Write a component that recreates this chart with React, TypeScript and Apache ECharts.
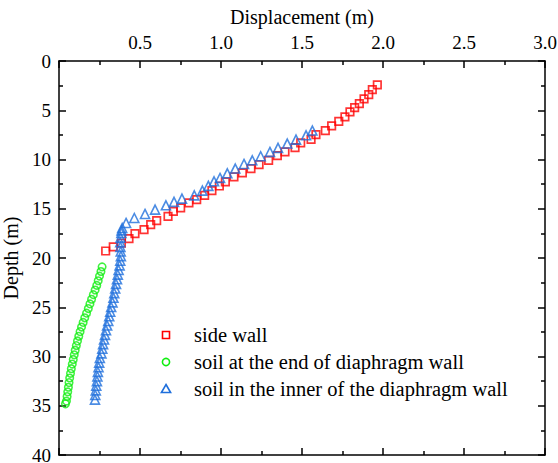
import React, { useEffect, useRef } from 'react';
import * as echarts from 'echarts';

const FONT = 'Liberation Serif';

// side wall: depth (m) and displacement (m)
const sideWallDepth = [2.42, 2.9, 3.41, 3.84, 4.32, 4.73, 5.16, 5.67, 6.12, 6.59, 7.06, 7.47, 7.95, 8.31, 8.79, 9.23, 9.6, 10.08, 10.52, 10.92, 11.36, 11.77, 12.28, 12.69, 13.16, 13.64, 14.08, 14.41, 14.92, 15.26, 15.77, 16.21, 16.62, 17.12, 17.53, 18.04, 18.5, 18.88, 19.29];
const sideWallDisp = [1.965, 1.934, 1.912, 1.883, 1.854, 1.825, 1.796, 1.765, 1.727, 1.683, 1.644, 1.586, 1.556, 1.492, 1.457, 1.395, 1.348, 1.294, 1.235, 1.185, 1.132, 1.08, 1.027, 0.99, 0.944, 0.899, 0.85, 0.802, 0.751, 0.706, 0.673, 0.603, 0.566, 0.525, 0.469, 0.432, 0.385, 0.335, 0.288];

// soil at the end of diaphragm wall
const endSoilDepth = [20.9, 21.37, 21.84, 22.31, 22.78, 23.25, 23.72, 24.19, 24.66, 25.13, 25.6, 26.07, 26.54, 27.01, 27.48, 27.95, 28.42, 28.89, 29.36, 29.83, 30.3, 30.77, 31.24, 31.71, 32.18, 32.65, 33.12, 33.59, 34.06, 34.53, 34.8];
const endSoilDisp = [0.266, 0.259, 0.25, 0.242, 0.233, 0.223, 0.212, 0.201, 0.191, 0.181, 0.17, 0.159, 0.149, 0.139, 0.13, 0.122, 0.114, 0.107, 0.1, 0.094, 0.088, 0.082, 0.076, 0.071, 0.066, 0.062, 0.058, 0.054, 0.05, 0.046, 0.04];

// soil in the inner of the diaphragm wall
const innerSoilDepth = [7.06, 7.54, 7.98, 8.38, 8.82, 9.23, 9.67, 10.08, 10.45, 10.92, 11.4, 11.87, 12.21, 12.68, 13.16, 13.64, 13.97, 14.3, 14.65, 15.09, 15.53, 15.94, 16.44, 16.95, 17.2, 17.46, 17.93, 18.4, 18.87, 19.34, 19.81, 20.28, 20.75, 21.22, 21.69, 22.16, 22.63, 23.1, 23.57, 24.04, 24.51, 24.98, 25.45, 25.92, 26.39, 26.86, 27.33, 27.8, 28.27, 28.74, 29.21, 29.68, 30.15, 30.62, 31.09, 31.56, 32.03, 32.5, 32.97, 33.44, 33.91, 34.38];
const innerSoilDisp = [1.564, 1.525, 1.463, 1.409, 1.352, 1.302, 1.245, 1.193, 1.142, 1.088, 1.039, 0.994, 0.957, 0.922, 0.885, 0.835, 0.759, 0.71, 0.66, 0.593, 0.531, 0.465, 0.414, 0.39, 0.386, 0.385, 0.38, 0.378, 0.379, 0.381, 0.382, 0.378, 0.374, 0.368, 0.363, 0.358, 0.352, 0.347, 0.341, 0.336, 0.33, 0.322, 0.316, 0.31, 0.304, 0.297, 0.29, 0.284, 0.278, 0.272, 0.267, 0.262, 0.252, 0.248, 0.244, 0.24, 0.237, 0.234, 0.23, 0.227, 0.224, 0.222];

const seriesNames = ['side wall', 'soil at the end of diaphragm wall', 'soil in the inner of the diaphragm wall'];
const seriesColors = ['#ff0000', '#11ee11', '#1f6fdc'];
const xTickLabels = ['', '0.5', '1.0', '1.5', '2.0', '2.5', '3.0'];
const yTickLabels = ['0', '5', '10', '15', '20', '25', '30', '35', '40'];

const pairs = (xs: number[], ys: number[]) => xs.map((x, i) => [x, ys[i]]);

export default function App() {
  const ref = useRef<HTMLDivElement>(null);
  useEffect(() => {
    if (!ref.current) return;
    const chart = echarts.init(ref.current, undefined, { renderer: 'svg' });
    const axisLine = { show: true, onZero: false, lineStyle: { color: '#000', width: 1.5 } };
    const axisTick = { show: true, inside: true, length: 7, lineStyle: { color: '#000', width: 1.5 } };
    const minorTick = { show: true, splitNumber: 2, length: 4, lineStyle: { color: '#000', width: 1.5 } };
    const xBase = { type: 'value', min: 0, max: 3, interval: 0.5, axisLine, axisTick, minorTick, splitLine: { show: false } };
    const yBase = { type: 'value', min: 0, max: 40, interval: 5, inverse: true, axisLine, axisTick, minorTick, splitLine: { show: false } };

    // hand-drawn legend (icons + labels)
    const lx = 166;
    const rows = [335, 362, 389];
    const iconStyle = (c: string) => ({ fill: 'none', stroke: c, lineWidth: 1.6 });
    const legendGraphics: any[] = [
      { type: 'rect', shape: { x: lx - 3.5, y: rows[0] - 3.5, width: 7, height: 7 }, style: iconStyle(seriesColors[0]) },
      { type: 'circle', shape: { cx: lx, cy: rows[1], r: 3.6 }, style: iconStyle(seriesColors[1]) },
      { type: 'polygon', shape: { points: [[lx, rows[2] - 4.5], [lx + 4.6, rows[2] + 3.5], [lx - 4.6, rows[2] + 3.5]] }, style: iconStyle(seriesColors[2]) },
      ...seriesNames.map((name, i) => ({
        type: 'text', x: 194, y: rows[i],
        style: { text: name, fontSize: 20.5, fontFamily: FONT, fill: '#000', verticalAlign: 'middle', align: 'left' },
      })),
    ];

    chart.setOption({
      animation: false,
      backgroundColor: '#fff',
      textStyle: { fontFamily: FONT, color: '#000' },
      grid: { left: 59, top: 61, right: 13, bottom: 8, containLabel: false, outerBoundsMode: 'none' },
      xAxis: [
        {
          ...xBase,
          position: 'top',
          name: 'Displacement (m)',
          nameLocation: 'middle',
          nameGap: 34,
          nameTextStyle: { fontSize: 20, fontFamily: FONT, color: '#000' },
          axisLabel: {
            fontSize: 19, fontFamily: FONT, color: '#000', margin: 9,
            formatter: (v: number) => xTickLabels[Math.round(v / 0.5)] ?? '',
          },
        },
        { ...xBase, position: 'bottom', axisLabel: { show: false } },
      ],
      yAxis: [
        {
          ...yBase,
          position: 'left',
          name: 'Depth (m)',
          nameLocation: 'middle',
          nameGap: 34,
          nameRotate: 90,
          nameTextStyle: { fontSize: 20, fontFamily: FONT, color: '#000' },
          axisLabel: {
            fontSize: 19, fontFamily: FONT, color: '#000', margin: 8,
            formatter: (v: number) => yTickLabels[Math.round(v / 5)] ?? '',
          },
        },
        { ...yBase, position: 'right', axisLabel: { show: false } },
      ],
      graphic: legendGraphics,
      series: [
        {
          name: seriesNames[0], type: 'scatter', symbol: 'rect', symbolSize: 7.5,
          itemStyle: { color: 'rgba(255,255,255,0)', borderColor: seriesColors[0], borderWidth: 1.7 },
          data: pairs(sideWallDisp, sideWallDepth),
        },
        {
          name: seriesNames[1], type: 'scatter', symbol: 'circle', symbolSize: 7.5,
          itemStyle: { color: 'rgba(255,255,255,0)', borderColor: seriesColors[1], borderWidth: 1.6 },
          data: pairs(endSoilDisp, endSoilDepth),
        },
        {
          name: seriesNames[2], type: 'scatter', symbol: 'triangle', symbolSize: 9,
          itemStyle: { color: 'rgba(255,255,255,0)', borderColor: seriesColors[2], borderWidth: 1.6 },
          data: pairs(innerSoilDisp, innerSoilDepth),
        },
      ],
    });
    return () => chart.dispose();
  }, []);
  return <div ref={ref} style={{ position: 'fixed', left: 0, top: 0, width: 558, height: 463 }} />;
}
